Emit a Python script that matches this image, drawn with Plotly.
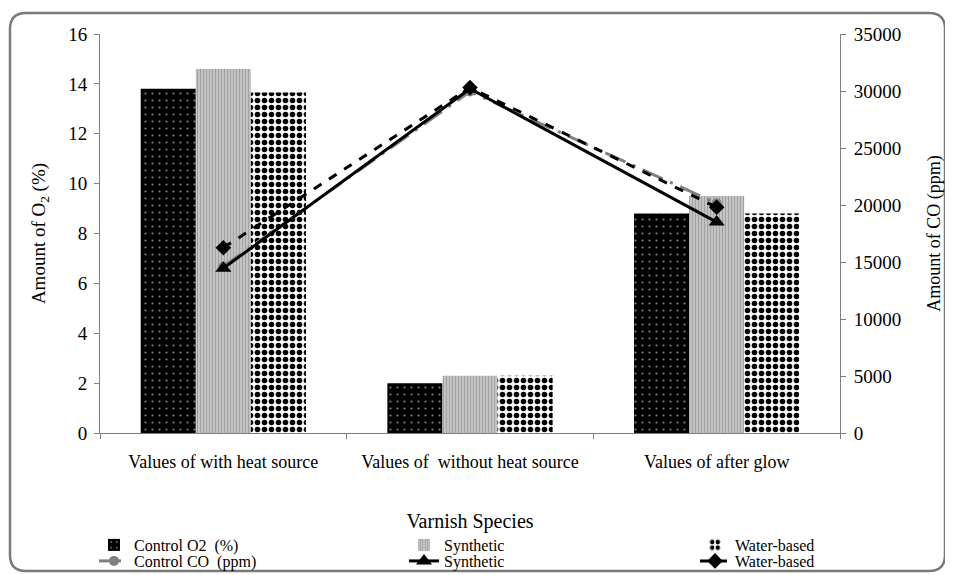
import plotly.graph_objects as go

categories = ["Values of with heat source", "Values of  without heat source", "Values of after glow"]
o2_control = [13.8, 2.0, 8.8]
o2_synthetic = [14.6, 2.3, 9.5]
o2_water = [13.65, 2.3, 8.8]
co_control = [14600, 29950, 20150]
co_synthetic = [14450, 30200, 18500]
co_water = [16250, 30300, 19800]
left_ticks = [0, 2, 4, 6, 8, 10, 12, 14, 16]
right_ticks = [0, 5000, 10000, 15000, 20000, 25000, 30000, 35000]

FONT = "Liberation Serif, Times New Roman, Times, serif"
OFF = 8  # page body margin in the screenshot
W, H = 953 - OFF, 575 - OFF
L, R, T, B = 100 - OFF, W - (840 - OFF), 34 - OFF, H - (433 - OFF)
pw, ph = W - L - R, H - T - B

def px(x):
    """reference screenshot x -> paper x"""
    return (x - OFF - L) / pw

def py(y):
    """reference screenshot y -> paper y"""
    return (H - B - (y - OFF)) / ph

fig = go.Figure()

fig.add_trace(go.Bar(
    x=categories, y=o2_control, name="Control O2  (%)", legend="legend",
    marker=dict(color="black", line=dict(width=0),
                pattern=dict(shape=".", fgcolor="white", bgcolor="black", size=7, solidity=0.08)),
))
fig.add_trace(go.Bar(
    x=categories, y=o2_synthetic, name="Synthetic", legend="legend2",
    marker=dict(color="#bdbdbd", line=dict(width=0),
                pattern=dict(shape="|", fgcolor="#7c7c7c", bgcolor="#c9c9c9", size=3, solidity=0.45)),
))
fig.add_trace(go.Bar(
    x=categories, y=o2_water, name="Water-based", legend="legend3",
    marker=dict(color="black", line=dict(width=0),
                pattern=dict(shape=".", fgcolor="black", bgcolor="white", fgopacity=1,
                             size=7, solidity=0.5)),
))

fig.add_trace(go.Scatter(
    x=categories, y=co_control, name="Control CO  (ppm)", yaxis="y2", legend="legend4",
    mode="lines+markers",
    line=dict(color="#808080", width=3, dash="22px,8px,3px,8px"),
    marker=dict(symbol="circle", size=10, color="#808080"),
))
fig.add_trace(go.Scatter(
    x=categories, y=co_synthetic, name="Synthetic", yaxis="y2", legend="legend5",
    mode="lines+markers",
    line=dict(color="black", width=3),
    marker=dict(symbol="triangle-up", size=14, color="black"),
))
fig.add_trace(go.Scatter(
    x=categories, y=co_water, name="Water-based", yaxis="y2", legend="legend6",
    mode="lines+markers",
    line=dict(color="black", width=3, dash="dash"),
    marker=dict(symbol="diamond", size=12, color="black"),
))

axis_color = "#7f7f7f"
tick_font = dict(family=FONT, size=19, color="black")

legend_common = dict(
    orientation="v", bgcolor="rgba(0,0,0,0)", borderwidth=0,
    font=dict(family=FONT, size=16, color="black"),
    xanchor="left", yanchor="middle", itemwidth=30, tracegroupgap=0,
)

# rounded border
x0, x1 = px(10), px(945)
y0, y1 = py(571), py(13)
rx = 16 / pw
ry = 16 / ph
path = (f"M {x0+rx},{y1} L {x1-rx},{y1} Q {x1},{y1} {x1},{y1-ry} "
        f"L {x1},{y0+ry} Q {x1},{y0} {x1-rx},{y0} L {x0+rx},{y0} "
        f"Q {x0},{y0} {x0},{y0+ry} L {x0},{y1-ry} Q {x0},{y1} {x0+rx},{y1} Z")

row1, row2 = py(545), py(561)
cols = [px(94), px(404), px(695)]

fig.update_layout(
    width=W, height=H,
    margin=dict(l=L, r=R, t=T, b=B, autoexpand=False),
    paper_bgcolor="white", plot_bgcolor="white",
    barmode="group", bargap=0.33, bargroupgap=0,
    showlegend=True,
    font=dict(family=FONT, color="black"),
    xaxis=dict(
        showline=True, linecolor=axis_color, linewidth=1,
        ticks="outside", tickson="boundaries", ticklen=5, tickcolor=axis_color,
        tickfont=dict(family=FONT, size=18, color="black"), ticklabelstandoff=12,
        title=dict(text="Varnish Species", font=dict(family=FONT, size=20), standoff=43),
        showgrid=False, zeroline=False, automargin=False,
    ),
    yaxis=dict(
        range=[0, 16], tickvals=left_ticks, showline=True, linecolor=axis_color,
        ticks="outside", ticklen=5, tickcolor=axis_color, tickfont=tick_font, ticklabelstandoff=3,
        title=dict(text="Amount of O<sub>2</sub> (%)", font=dict(family=FONT, size=19), standoff=17),
        showgrid=False, zeroline=False, automargin=False,
    ),
    yaxis2=dict(
        range=[0, 35000], tickvals=right_ticks, ticktext=[str(v) for v in right_ticks],
        overlaying="y", side="right",
        showline=True, linecolor=axis_color, ticks="outside", ticklen=5, tickcolor=axis_color,
        tickfont=tick_font, ticklabelstandoff=4,
        title=dict(text="Amount of CO (ppm)", font=dict(family=FONT, size=18), standoff=27),
        showgrid=False, zeroline=False, automargin=False,
    ),
    legend=dict(x=cols[0], y=row1, **legend_common),
    legend2=dict(x=cols[1], y=row1, **legend_common),
    legend3=dict(x=cols[2], y=row1, **legend_common),
    legend4=dict(x=cols[0], y=row2, **legend_common),
    legend5=dict(x=cols[1], y=row2, **legend_common),
    legend6=dict(x=cols[2], y=row2, **legend_common),
    shapes=[dict(type="path", xref="paper", yref="paper", path=path,
                 line=dict(color="#7a7a7a", width=2.5), fillcolor="rgba(0,0,0,0)", layer="below")],
)

fig.write_html("out.html")
